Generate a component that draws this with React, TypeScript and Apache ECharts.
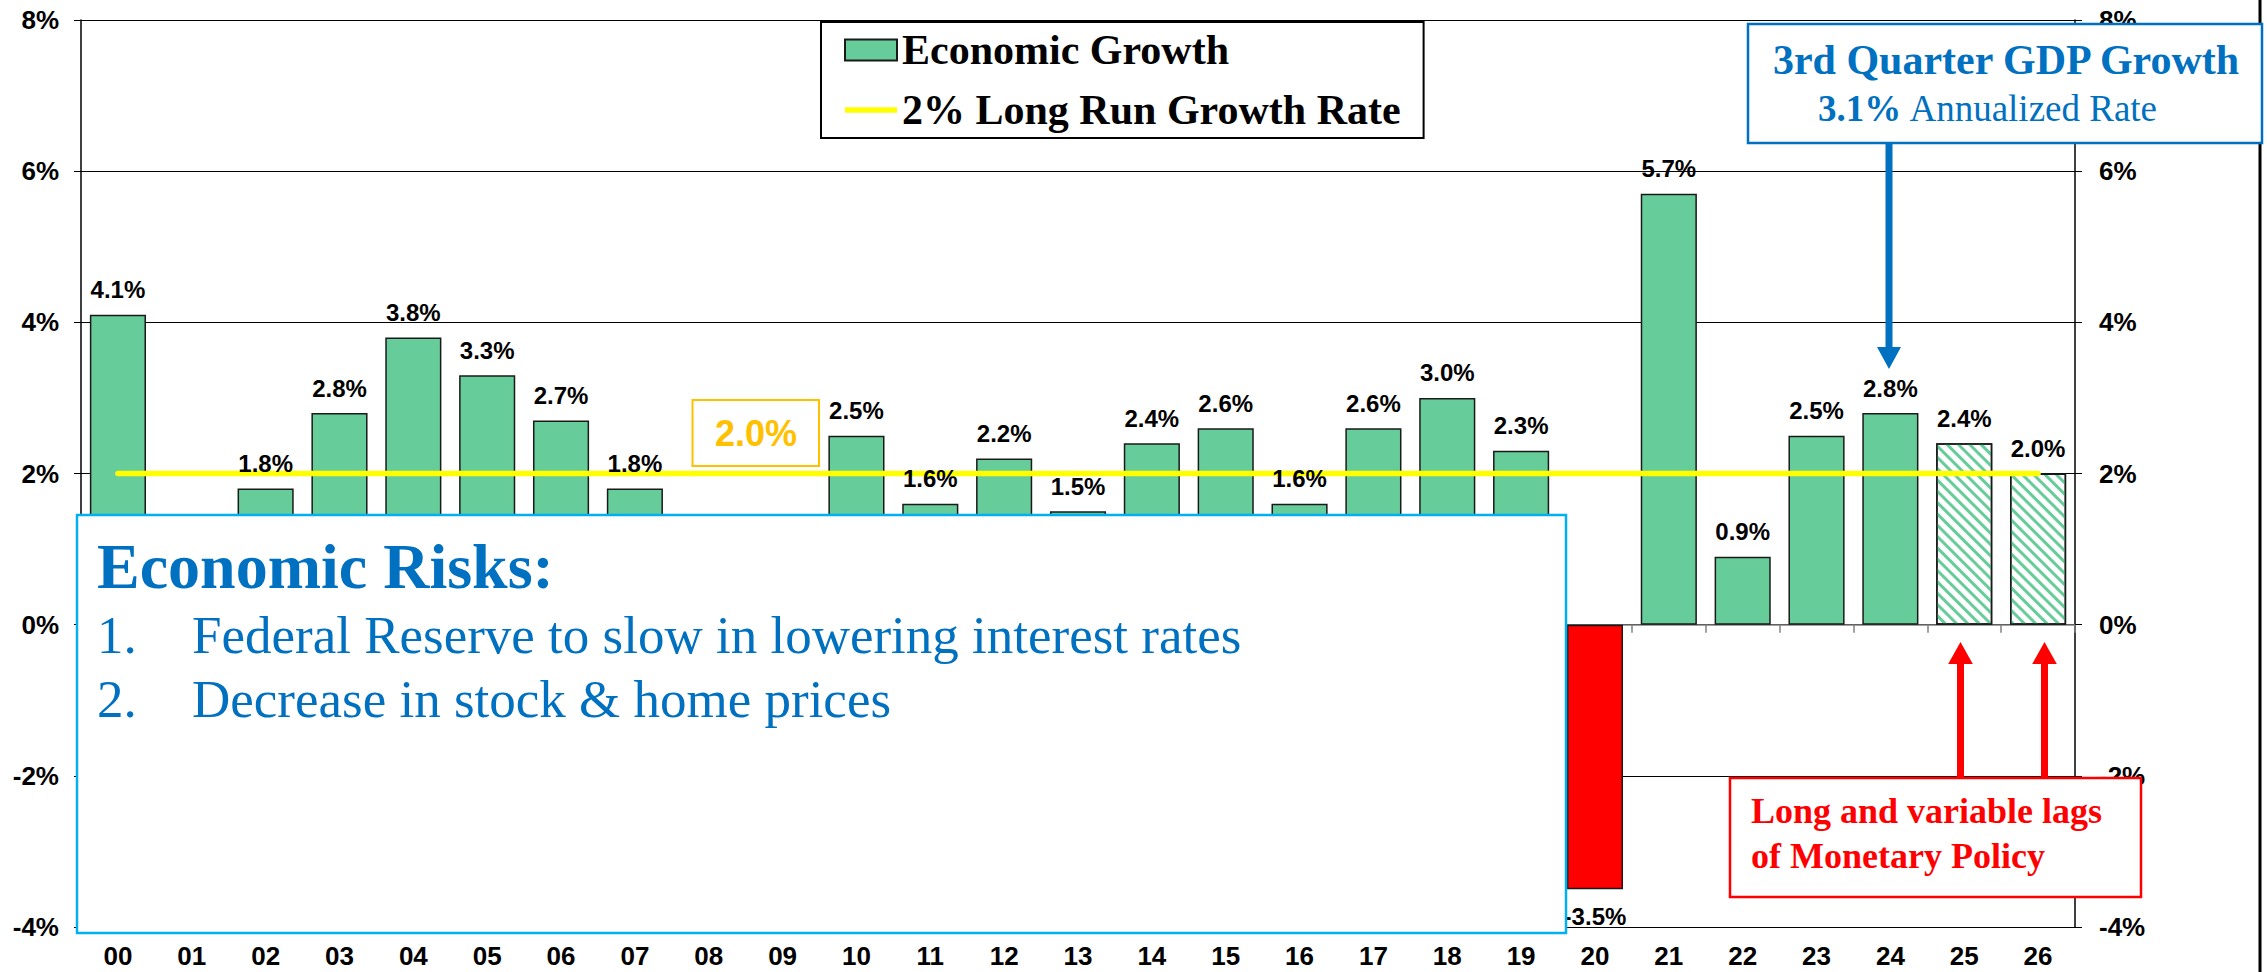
import React, { useEffect, useRef } from "react";
import * as echarts from "echarts";

// ---------- data ----------
const categories = [
  "00", "01", "02", "03", "04", "05", "06", "07", "08", "09",
  "10", "11", "12", "13", "14", "15", "16", "17", "18", "19",
  "20", "21", "22", "23", "24", "25", "26",
];
// annual real GDP growth, % (01, 08, 09 lie behind the risk box in the reference)
const growth = [
  4.1, 1.0, 1.8, 2.8, 3.8, 3.3, 2.7, 1.8, -0.3, -2.8,
  2.5, 1.6, 2.2, 1.5, 2.4, 2.6, 1.6, 2.6, 3.0, 2.3,
  -3.5, 5.7, 0.9, 2.5, 2.8, 2.4, 2.0,
];
const longRunRate = [
  2, 2, 2, 2, 2, 2, 2, 2, 2, 2,
  2, 2, 2, 2, 2, 2, 2, 2, 2, 2,
  2, 2, 2, 2, 2, 2, 2,
];
const recessionYears = ["20"];
const forecastYears = ["25", "26"];
const coveredYears = ["01", "08", "09"];
const yMin = -4;
const yMax = 8;
const yStep = 2;

const barName = "Economic Growth";
const lineName = "2% Long Run Growth Rate";
const risksTitle = "Economic Risks:";
const risks = [
  "Federal Reserve to slow in lowering interest rates",
  "Decrease in stock & home prices",
];
const gdpTitle = "3rd Quarter GDP Growth";
const gdpRate = "3.1%";
const gdpRateText = " Annualized Rate";
const lagsText = ["Long and variable lags", "of Monetary Policy"];
const longRunLabel = "2.0%";

// ---------- styles ----------
const SANS = '"Liberation Sans", Arial, sans-serif';
const SERIF = '"Liberation Serif", "Times New Roman", serif';
const GREEN = "#66CC99";
const BLUE = "#0070C0";
const CYAN = "#00B0F0";
const ORANGE = "#FFC000";
const RED = "#FF0000";
const YELLOW = "#FFFF00";

export default function App() {
  const ref = useRef<HTMLDivElement>(null);

  useEffect(() => {
    document.body.style.margin = "0";
    if (!ref.current) return;
    const chart = echarts.init(ref.current, undefined, { renderer: "svg" });

    const barData = growth.map((v, i) => {
      const cat = categories[i];
      const item: any = { value: v };
      if (recessionYears.includes(cat)) {
        item.itemStyle = { color: RED };
      }
      if (forecastYears.includes(cat)) {
        item.itemStyle = {
          color: "#FFFFFF",
          decal: {
            symbol: "rect",
            symbolSize: 1,
            color: GREEN,
            backgroundColor: "#FFFFFF",
            dashArrayX: [1, 0],
            dashArrayY: [3, 5],
            rotation: Math.PI / 4,
          },
        };
      }
      return item;
    });

    const labelData = growth.map((v, i) => {
      const cat = categories[i];
      const item: any = { value: v };
      if (coveredYears.includes(cat)) item.label = { show: false };
      else if (v < 0) item.label = { position: "bottom", distance: 15 };
      return item;
    });

    const arrowUp = (x0: number) => ({
      type: "polygon",
      z: 120,
      shape: {
        points: [
          [x0 - 3.5, 778],
          [x0 + 3.5, 778],
          [x0 + 3.5, 664],
          [x0 + 12.3, 664],
          [x0, 642],
          [x0 - 12.3, 664],
          [x0 - 3.5, 664],
        ],
      },
      style: { fill: RED },
    });

    const option: any = {
      animation: false,
      backgroundColor: "#FFFFFF",
      grid: { left: 81, right: 192, top: 20, bottom: 45, containLabel: false },
      legend: {
        orient: "vertical",
        left: 821,
        top: 22,
        padding: [4, 23, 4, 23],
        itemGap: 12,
        itemWidth: 52,
        itemHeight: 21,
        backgroundColor: "#FFFFFF",
        borderColor: "#000000",
        borderWidth: 2,
        z: 50,
        textStyle: {
          fontFamily: SERIF,
          fontWeight: "bold",
          fontSize: 42,
          lineHeight: 48,
          color: "#000000",
        },
        data: [
          { name: barName, icon: "rect" },
          { name: lineName, icon: "path://M0,0 L104,0 L104,11 L0,11 Z", itemStyle: { color: YELLOW, borderWidth: 0 } },
        ],
      },
      xAxis: [
        {
          type: "category",
          data: categories,
          position: "bottom",
          axisLine: { show: true, onZero: true, lineStyle: { color: "#808080", width: 1.5 } },
          axisTick: { show: true, length: 8, lineStyle: { color: "#808080", width: 1.5 } },
          axisLabel: { show: false },
          splitLine: { show: false },
        },
        {
          type: "category",
          data: categories,
          position: "bottom",
          axisLine: { show: false, onZero: false },
          axisTick: { show: false },
          splitLine: { show: false },
          axisLabel: {
            show: true,
            fontFamily: SANS,
            fontWeight: "bold",
            fontSize: 26,
            lineHeight: 20,
            color: "#000000",
            margin: 19,
          },
        },
      ],
      yAxis: [
        {
          type: "value",
          min: yMin,
          max: yMax,
          interval: yStep,
          position: "left",
          axisLine: { show: true, lineStyle: { color: "#000000", width: 1.5 } },
          axisTick: { show: true, length: 7, lineStyle: { color: "#000000" } },
          axisLabel: {
            formatter: "{value}%",
            fontFamily: SANS,
            fontWeight: "bold",
            fontSize: 26,
            color: "#000000",
            margin: 22,
          },
          splitLine: { show: true, lineStyle: { color: "#000000", width: 1 } },
        },
        {
          type: "value",
          min: yMin,
          max: yMax,
          interval: yStep,
          position: "right",
          axisLine: { show: true, lineStyle: { color: "#000000", width: 1.5 } },
          axisTick: { show: true, length: 7, lineStyle: { color: "#000000" } },
          axisLabel: {
            formatter: "{value}%",
            fontFamily: SANS,
            fontWeight: "bold",
            fontSize: 26,
            color: "#000000",
            margin: 24,
          },
          splitLine: { show: false },
        },
      ],
      series: [
        {
          name: barName,
          type: "bar",
          xAxisIndex: 0,
          yAxisIndex: 0,
          data: barData,
          barCategoryGap: "24%",
          z: 2,
          itemStyle: { color: GREEN, borderColor: "#1A1A1A", borderWidth: 1.5 },
          label: { show: false },
        },
        {
          name: lineName,
          type: "line",
          xAxisIndex: 0,
          yAxisIndex: 0,
          data: longRunRate,
          symbol: "none",
          z: 3,
          itemStyle: { color: YELLOW },
          lineStyle: { color: YELLOW, width: 5.5, cap: "round" },
        },
        {
          // value labels, drawn above the long-run line
          name: "labels",
          type: "bar",
          xAxisIndex: 0,
          yAxisIndex: 0,
          data: labelData,
          barCategoryGap: "24%",
          barGap: "-100%",
          z: 4,
          silent: true,
          itemStyle: { color: "rgba(0,0,0,0)", borderWidth: 0 },
          label: {
            show: true,
            position: "top",
            distance: 13,
            fontFamily: SANS,
            fontWeight: "bold",
            fontSize: 24,
            color: "#000000",
            formatter: (p: any) => `${Number(p.value).toFixed(1)}%`,
          },
        },
      ],
      graphic: [
        // slide right border
        {
          type: "line",
          z: 100,
          shape: { x1: 2260, y1: 0, x2: 2260, y2: 972 },
          style: { stroke: "#000000", lineWidth: 3 },
        },
        // 2.0% label box
        {
          type: "rect",
          z: 100,
          shape: { x: 692.5, y: 400, width: 126.5, height: 66 },
          style: { fill: "#FFFFFF", stroke: ORANGE, lineWidth: 2 },
        },
        {
          type: "text",
          z: 101,
          x: 756,
          y: 433.5,
          style: {
            text: longRunLabel,
            fontFamily: SANS,
            fontWeight: "bold",
            fontSize: 36,
            fill: ORANGE,
            align: "center",
            verticalAlign: "middle",
          },
        },
        // Economic risks box
        {
          type: "rect",
          z: 100,
          shape: { x: 77, y: 515, width: 1489, height: 418 },
          style: { fill: "#FFFFFF", stroke: CYAN, lineWidth: 2.5 },
        },
        {
          type: "text",
          z: 101,
          x: 97,
          y: 566,
          style: {
            text: risksTitle,
            fontFamily: SERIF,
            fontWeight: "bold",
            fontSize: 64,
            fill: BLUE,
            align: "left",
            verticalAlign: "middle",
          },
        },
        ...risks.flatMap((r, i) => [
          {
            type: "text",
            z: 101,
            x: 97,
            y: 635 + i * 64,
            style: {
              text: `${i + 1}.`,
              fontFamily: SERIF,
              fontSize: 53,
              fill: BLUE,
              align: "left",
              verticalAlign: "middle",
            },
          },
          {
            type: "text",
            z: 101,
            x: 192,
            y: 635 + i * 64,
            style: {
              text: r,
              fontFamily: SERIF,
              fontSize: 53,
              fill: BLUE,
              align: "left",
              verticalAlign: "middle",
            },
          },
        ]),
        // GDP callout
        {
          type: "rect",
          z: 100,
          shape: { x: 1748, y: 24, width: 514, height: 119 },
          style: { fill: "#FFFFFF", stroke: BLUE, lineWidth: 2.5 },
        },
        {
          type: "text",
          z: 101,
          x: 2006,
          y: 60,
          style: {
            text: gdpTitle,
            fontFamily: SERIF,
            fontWeight: "bold",
            fontSize: 42,
            fill: BLUE,
            align: "center",
            verticalAlign: "middle",
          },
        },
        {
          type: "text",
          z: 101,
          x: 1988,
          y: 108,
          style: {
            text: `{b|${gdpRate}}{r|${gdpRateText}}`,
            align: "center",
            verticalAlign: "middle",
            rich: {
              b: { fontFamily: SERIF, fontWeight: "bold", fontSize: 37, fill: BLUE, color: BLUE },
              r: { fontFamily: SERIF, fontSize: 37, fill: BLUE, color: BLUE },
            },
          },
        },
        {
          type: "polygon",
          z: 120,
          shape: {
            points: [
              [1885.5, 143],
              [1892.5, 143],
              [1892.5, 347],
              [1901, 347],
              [1889, 369],
              [1877, 347],
              [1885.5, 347],
            ],
          },
          style: { fill: BLUE },
        },
        // Lags callout
        arrowUp(1960.5),
        arrowUp(2044.5),
        {
          type: "rect",
          z: 100,
          shape: { x: 1730, y: 778, width: 411, height: 119 },
          style: { fill: "#FFFFFF", stroke: RED, lineWidth: 2.5 },
        },
        ...lagsText.map((t, i) => ({
          type: "text",
          z: 101,
          x: 1751,
          y: 811 + i * 45,
          style: {
            text: t,
            fontFamily: SERIF,
            fontWeight: "bold",
            fontSize: 36,
            fill: RED,
            align: "left",
            verticalAlign: "middle",
          },
        })),
      ],
    };

    chart.setOption(option);
    return () => chart.dispose();
  }, []);

  return <div ref={ref} style={{ width: 2267, height: 972 }} />;
}
